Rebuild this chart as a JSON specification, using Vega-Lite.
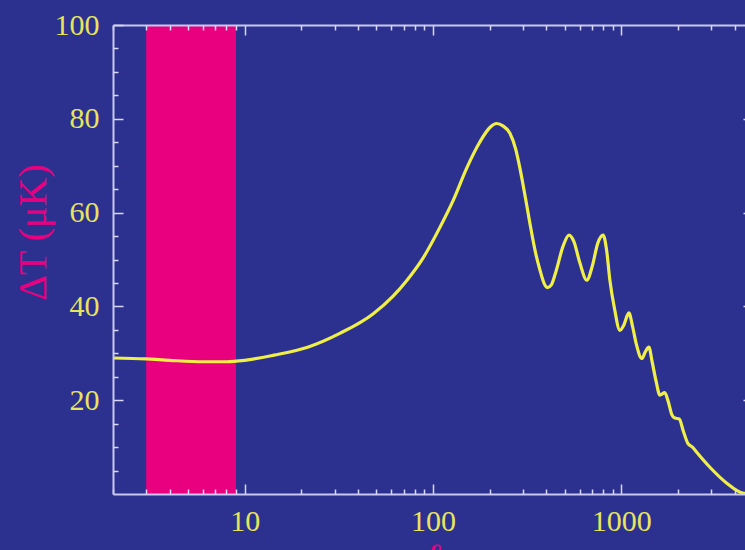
{
  "$schema": "https://vega.github.io/schema/vega-lite/v6.json",
  "width": 640,
  "height": 469,
  "autosize": {"type": "none"},
  "padding": {"left": 113, "top": 25, "right": 0, "bottom": 56},
  "background": "#2c3190",
  "config": {
    "view": {"stroke": null, "fill": "#2c3190"},
    "axis": {
      "labelFont": "Liberation Serif",
      "titleFont": "Liberation Serif",
      "labelColor": "#e8e45c",
      "domainColor": "#c8c8f2",
      "domainWidth": 2,
      "tickColor": "#d8d8f6",
      "tickWidth": 1.5,
      "grid": false,
      "zindex": 2,
      "labelOverlap": false,
      "labelFlush": false
    }
  },
  "datasets": {
    "band": [{"lo": 3, "hi": 9, "y0": 0, "y1": 100}],
    "spectrum": [
      {"ell": 2, "dT": 29.0}, {"ell": 3, "dT": 28.8}, {"ell": 4, "dT": 28.5},
      {"ell": 6, "dT": 28.2}, {"ell": 8, "dT": 28.2}, {"ell": 10, "dT": 28.5},
      {"ell": 14.3, "dT": 29.6}, {"ell": 21.6, "dT": 31.3}, {"ell": 32.2, "dT": 34.3},
      {"ell": 48, "dT": 38.4}, {"ell": 61.4, "dT": 42.2}, {"ell": 72.8, "dT": 45.6},
      {"ell": 88.5, "dT": 50.3}, {"ell": 109, "dT": 56.9}, {"ell": 128, "dT": 62.6},
      {"ell": 151, "dT": 69.5}, {"ell": 177, "dT": 75.0}, {"ell": 201, "dT": 78.2},
      {"ell": 218, "dT": 79.0}, {"ell": 235, "dT": 78.5}, {"ell": 256, "dT": 76.9},
      {"ell": 275, "dT": 73.5}, {"ell": 289, "dT": 69.6}, {"ell": 310, "dT": 63.0},
      {"ell": 327, "dT": 57.7}, {"ell": 350, "dT": 51.5}, {"ell": 370, "dT": 47.7},
      {"ell": 390, "dT": 44.8}, {"ell": 405, "dT": 44.0}, {"ell": 425, "dT": 44.6},
      {"ell": 450, "dT": 47.5}, {"ell": 490, "dT": 52.8}, {"ell": 527, "dT": 55.2},
      {"ell": 560, "dT": 53.8}, {"ell": 600, "dT": 49.5}, {"ell": 656, "dT": 45.6},
      {"ell": 700, "dT": 48.5}, {"ell": 750, "dT": 53.5}, {"ell": 800, "dT": 55.2},
      {"ell": 835, "dT": 52.0}, {"ell": 869, "dT": 45.6}, {"ell": 920, "dT": 39.5},
      {"ell": 982, "dT": 34.9}, {"ell": 1030, "dT": 36.0}, {"ell": 1096, "dT": 38.6},
      {"ell": 1150, "dT": 35.5}, {"ell": 1200, "dT": 32.0}, {"ell": 1285, "dT": 28.9},
      {"ell": 1340, "dT": 30.3}, {"ell": 1400, "dT": 31.3}, {"ell": 1460, "dT": 28.0},
      {"ell": 1530, "dT": 24.0}, {"ell": 1601, "dT": 21.1}, {"ell": 1700, "dT": 21.6},
      {"ell": 1780, "dT": 19.5}, {"ell": 1850, "dT": 17.0}, {"ell": 1923, "dT": 16.2},
      {"ell": 2030, "dT": 16.0}, {"ell": 2130, "dT": 13.5}, {"ell": 2255, "dT": 10.8},
      {"ell": 2385, "dT": 10.0}, {"ell": 2500, "dT": 9.0}, {"ell": 2952, "dT": 5.7},
      {"ell": 3630, "dT": 2.3}, {"ell": 4413, "dT": 0.2}, {"ell": 5000, "dT": 0.0}
    ]
  },
  "layer": [
    {
      "data": {"name": "band"},
      "mark": {"type": "rect", "color": "#e8007f"},
      "encoding": {
        "x": {
          "field": "lo", "type": "quantitative",
          "scale": {"type": "log", "domain": [2, 5000], "nice": false},
          "axis": {
            "orient": "bottom",
            "values": [10, 100, 1000],
            "format": "d",
            "labelFontSize": 30,
            "labelPadding": 22,
            "tickSize": -10,
            "zindex": 3,
            "title": "ℓ",
            "titleColor": "#e8007f",
            "titleFontSize": 40,
            "titleFontStyle": "italic",
            "titleBaseline": "top",
            "titleY": 44
          }
        },
        "x2": {"field": "hi"},
        "y": {
          "field": "y0", "type": "quantitative",
          "scale": {"domain": [0, 100], "nice": false},
          "axis": {
            "orient": "left",
            "values": [20, 40, 60, 80, 100],
            "format": "d",
            "labelFontSize": 30,
            "labelPadding": 24,
            "labelBaseline": "middle",
            "tickSize": -10,
            "zindex": 3,
            "title": "ΔT (μK)",
            "titleColor": "#e8007f",
            "titleFontSize": 40,
            "titleFontWeight": "normal",
            "titleAngle": -90,
            "titleAlign": "center",
            "titleBaseline": "middle",
            "titleX": -80,
            "titleY": 207
          }
        },
        "y2": {"field": "y1"}
      }
    },
    {
      "data": {"name": "spectrum"},
      "mark": {"type": "line", "color": "#f0ef48", "strokeWidth": 3.2, "interpolate": "monotone"},
      "encoding": {
        "x": {
          "field": "ell", "type": "quantitative",
          "scale": {"type": "log", "domain": [2, 5000], "nice": false},
          "axis": {"orient": "top", "values": [10, 100, 1000], "labels": false, "tickSize": -10, "zindex": 3, "title": null}
        },
        "y": {
          "field": "dT", "type": "quantitative",
          "scale": {"domain": [0, 100], "nice": false},
          "axis": {"orient": "right", "values": [20, 40, 60, 80], "labels": false, "tickSize": -10, "zindex": 3, "title": null}
        }
      }
    },
    {
      "data": {"name": "spectrum"},
      "mark": {"type": "line", "strokeOpacity": 0},
      "encoding": {
        "x": {
          "field": "ell", "type": "quantitative",
          "scale": {"type": "log", "domain": [2, 5000], "nice": false},
          "axis": {"orient": "bottom", "values": [2,3,4,5,6,7,8,9,20,30,40,50,60,70,80,90,200,300,400,500,600,700,800,900,2000,3000,4000,5000], "labels": false, "domain": false, "tickSize": -5, "zindex": 3, "title": null}
        },
        "y": {
          "field": "dT", "type": "quantitative",
          "scale": {"domain": [0, 100], "nice": false},
          "axis": {"orient": "left", "values": [5,10,15,25,30,35,45,50,55,65,70,75,85,90,95], "labels": false, "domain": false, "tickSize": -5, "zindex": 3, "title": null}
        }
      }
    },
    {
      "data": {"name": "spectrum"},
      "mark": {"type": "line", "strokeOpacity": 0},
      "encoding": {
        "x": {
          "field": "ell", "type": "quantitative",
          "scale": {"type": "log", "domain": [2, 5000], "nice": false},
          "axis": {"orient": "top", "values": [2,3,4,5,6,7,8,9,20,30,40,50,60,70,80,90,200,300,400,500,600,700,800,900,2000,3000,4000,5000], "labels": false, "domain": false, "tickSize": -5, "zindex": 3, "title": null}
        },
        "y": {
          "field": "dT", "type": "quantitative",
          "scale": {"domain": [0, 100], "nice": false},
          "axis": {"orient": "right", "values": [5,10,15,25,30,35,45,50,55,65,70,75,85,90,95], "labels": false, "domain": false, "tickSize": -5, "zindex": 3, "title": null}
        }
      }
    }
  ],
  "resolve": {"axis": {"x": "independent", "y": "independent"}}
}
